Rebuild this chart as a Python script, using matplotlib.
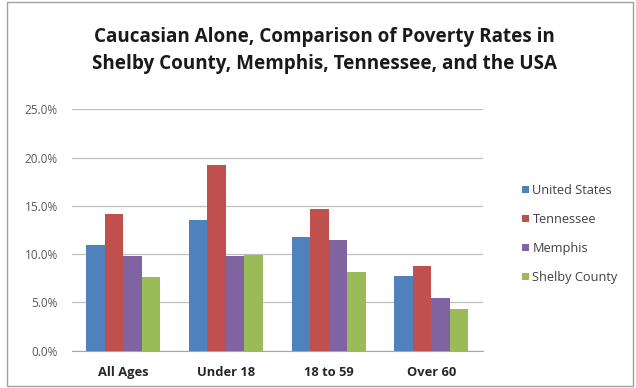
import matplotlib
matplotlib.use("Agg")
import matplotlib.pyplot as plt
import numpy as np
from matplotlib.patches import Rectangle

categories = ["All Ages", "Under 18", "18 to 59", "Over 60"]
series_names = ["United States", "Tennessee", "Memphis", "Shelby County"]
united_states = [11.0, 13.5, 11.8, 7.7]
tennessee = [14.2, 19.2, 14.7, 8.8]
memphis = [9.8, 9.8, 11.5, 5.5]
shelby_county = [7.6, 9.9, 8.2, 4.3]
yticks = [0, 5, 10, 15, 20, 25]
colors = ["#4F81BD", "#C0504D", "#8064A2", "#9BBB59"]

plt.rcParams['font.family'] = ['Open Sans', 'DejaVu Sans']

fig = plt.figure(figsize=(6.36, 3.88), dpi=100)
ax = fig.add_axes([0.113, 0.096, 0.646, 0.622])

x = np.arange(len(categories))
w = 0.18
data = [united_states, tennessee, memphis, shelby_county]
for i, (vals, name, c) in enumerate(zip(data, series_names, colors)):
    ax.bar(x + (i - 1.5) * w, vals, width=w, color=c, label=name, zorder=3)

ax.set_xlim(-0.5, 3.5)
ax.set_ylim(0, 25)
ax.set_yticks(yticks)
ax.set_yticklabels([f"{v:.1f}%" for v in yticks], fontsize=8.5, color="#595959")
ax.set_xticks(x)
ax.set_xticklabels(categories, fontsize=9.3, fontweight="bold", color="#262626")
ax.tick_params(axis="y", length=0, pad=10)
ax.tick_params(axis="x", length=0, pad=11)
ax.grid(axis="y", color="#BFBFBF", linewidth=0.9, zorder=0)
for s in ["top", "right", "left"]:
    ax.spines[s].set_visible(False)
ax.spines["bottom"].set_color("#A6A6A6")

fig.suptitle("Caucasian Alone, Comparison of Poverty Rates in\nShelby County, Memphis, Tennessee, and the USA",
             x=0.51, y=0.93, fontsize=13.6, fontweight="bold", color="#1a1a1a", linespacing=1.45)

leg = fig.legend(loc="center left", bbox_to_anchor=(0.802, 0.397), frameon=False,
                 fontsize=9.2, handlelength=0.55, handleheight=0.55, handletextpad=0.3,
                 labelspacing=1.25, labelcolor="#404040")

fig.patches.append(Rectangle((0.011, 0.005), 0.985, 0.99, transform=fig.transFigure,
                             fill=False, edgecolor="#A0A0A0", linewidth=1.0))

fig.savefig("out.png", dpi=100)
